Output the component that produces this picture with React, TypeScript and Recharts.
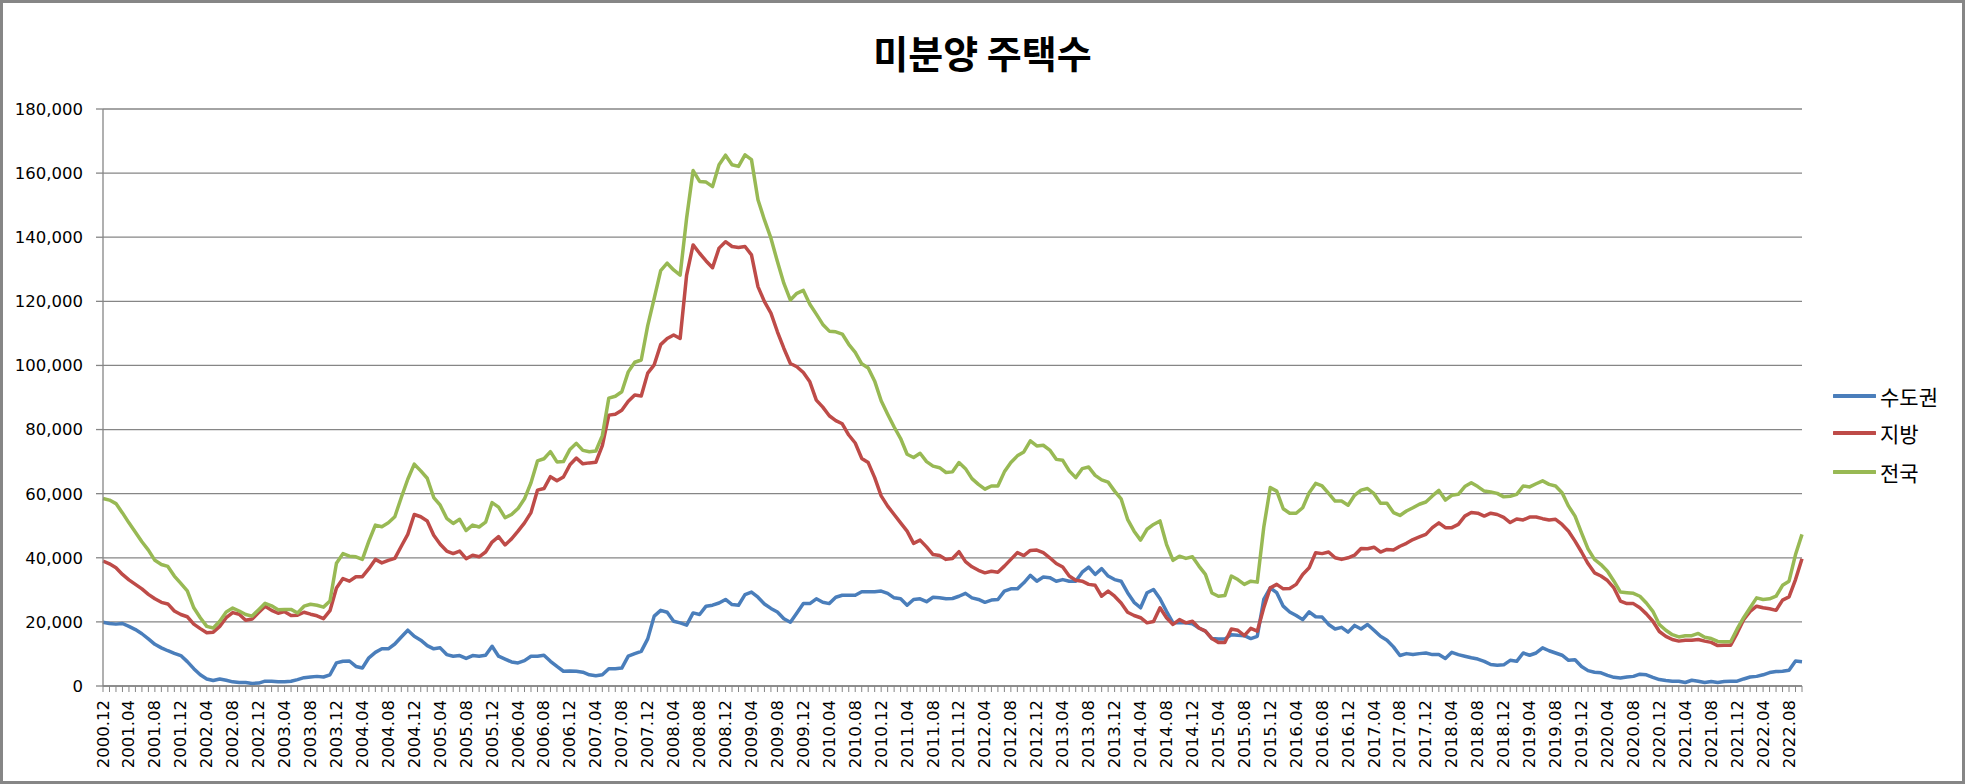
import { LineChart, Line, XAxis, YAxis, CartesianGrid } from 'recharts'

// 미분양 주택수, 2000.12 ~ 2022.10 (월별, 단위: 천 호)
const START_YEAR = 2000
const START_MONTH = 12
const MONTH_COUNT = 263

const months: string[] = []
for (let i = 0; i < MONTH_COUNT; i++) {
  const m = START_MONTH - 1 + i
  const year = START_YEAR + Math.floor(m / 12)
  const month = (m % 12) + 1
  months.push(`${year}.${String(month).padStart(2, '0')}`)
}

const metro = [
  19.9, 19.5, 19.3, 19.5, 18.6, 17.6, 16.3, 14.7, 13.0, 11.9,
  11.0, 10.2, 9.5, 7.6, 5.4, 3.5, 2.2, 1.7, 2.2, 1.8,
  1.3, 1.1, 1.1, 0.8, 0.9, 1.5, 1.5, 1.3, 1.3, 1.5,
  2.0, 2.6, 2.8, 3.0, 2.8, 3.5, 7.2, 7.7, 7.8, 6.1,
  5.6, 8.8, 10.5, 11.6, 11.6, 13.1, 15.3, 17.4, 15.5, 14.3,
  12.6, 11.6, 11.9, 9.8, 9.3, 9.5, 8.6, 9.5, 9.3, 9.6,
  12.4, 9.3, 8.4, 7.5, 7.2, 7.9, 9.3, 9.3, 9.6, 7.7,
  6.1, 4.6, 4.7, 4.6, 4.3, 3.5, 3.2, 3.5, 5.4, 5.4,
  5.6, 9.3, 10.1, 10.8, 14.7, 21.8, 23.6, 23.0, 20.2, 19.7,
  19.0, 22.8, 22.3, 24.9, 25.2, 25.9, 27.0, 25.4, 25.2, 28.5,
  29.3, 27.7, 25.6, 24.2, 23.1, 21.0, 19.9, 22.8, 25.7, 25.7,
  27.2, 26.1, 25.7, 27.7, 28.3, 28.3, 28.3, 29.4, 29.4, 29.4,
  29.6, 28.9, 27.5, 27.2, 25.2, 27.0, 27.2, 26.3, 27.7, 27.5,
  27.2, 27.3, 28.0, 28.9, 27.5, 27.0, 26.1, 26.8, 27.0, 29.6,
  30.3, 30.3, 32.2, 34.5, 32.7, 34.0, 33.8, 32.7, 33.2, 32.7,
  32.7, 35.5, 37.1, 34.8, 36.6, 34.3, 33.2, 32.7, 29.1, 26.1,
  24.4, 29.1, 30.1, 27.2, 23.3, 19.7, 19.7, 19.7, 19.4, 18.1,
  17.1, 14.8, 14.7, 14.7, 16.0, 15.8, 15.7, 14.8, 15.5, 27.0,
  30.6, 29.1, 24.9, 23.1, 22.0, 20.7, 23.1, 21.6, 21.5, 19.2,
  17.8, 18.3, 16.8, 18.9, 17.8, 19.2, 17.4, 15.5, 14.3, 12.2,
  9.5, 10.1, 9.8, 10.1, 10.3, 9.8, 9.8, 8.6, 10.5, 9.8,
  9.3, 8.8, 8.4, 7.7, 6.7, 6.5, 6.6, 8.0, 7.7, 10.3,
  9.6, 10.3, 11.9, 11.0, 10.3, 9.6, 8.0, 8.2, 6.1, 4.8,
  4.3, 4.1, 3.3, 2.7, 2.5, 2.8, 3.0, 3.7, 3.5, 2.7,
  2.0, 1.7, 1.5, 1.5, 1.1, 1.8, 1.5, 1.1, 1.4, 1.1,
  1.4, 1.5, 1.5, 2.2, 2.8, 3.0, 3.5, 4.2, 4.5, 4.6,
  4.9, 7.8, 7.6,
]

const local = [
  39.0, 38.1, 36.9, 34.8, 33.1, 31.7, 30.3, 28.6, 27.2, 26.1,
  25.6, 23.4, 22.3, 21.6, 19.3, 17.9, 16.6, 16.8, 18.6, 21.3,
  22.9, 22.4, 20.5, 20.9, 22.9, 24.9, 23.6, 22.7, 23.2, 22.0,
  22.1, 23.0, 22.4, 21.9, 21.0, 23.5, 30.6, 33.5, 32.7, 34.1,
  34.1, 36.6, 39.5, 38.4, 39.2, 39.8, 43.6, 47.3, 53.5, 52.8,
  51.5, 47.0, 44.2, 42.1, 41.3, 42.1, 39.7, 40.8, 40.3, 41.8,
  44.9, 46.6, 44.0, 45.9, 48.3, 50.9, 54.1, 61.1, 61.6, 65.3,
  64.0, 65.2, 69.0, 71.1, 69.3, 69.6, 69.8, 75.0, 84.5, 84.8,
  86.0, 88.8, 90.8, 90.5, 97.6, 100.2, 106.5, 108.4, 109.5, 108.4,
  128.2, 137.6, 135.0, 132.6, 130.5, 136.6, 138.6, 137.1, 136.8, 137.1,
  134.5, 124.6, 119.9, 116.3, 110.5, 105.3, 100.6, 99.6, 97.8, 94.9,
  89.2, 87.0, 84.3, 82.8, 81.8, 78.3, 75.8, 71.0, 69.7, 65.0,
  59.3, 56.1, 53.5, 50.9, 48.3, 44.5, 45.5, 43.4, 41.0, 40.7,
  39.5, 39.8, 41.9, 38.8, 37.2, 36.1, 35.3, 35.8, 35.5, 37.4,
  39.5, 41.6, 40.7, 42.3, 42.4, 41.6, 40.0, 38.2, 37.1, 34.3,
  33.0, 32.7, 31.7, 31.4, 28.0, 29.6, 28.0, 25.9, 23.0, 22.0,
  21.3, 19.7, 20.1, 24.4, 21.3, 19.2, 20.7, 19.7, 20.2, 18.1,
  17.1, 14.8, 13.6, 13.6, 17.8, 17.4, 15.7, 18.0, 17.1, 24.4,
  30.6, 31.7, 30.3, 30.4, 31.7, 34.8, 36.9, 41.6, 41.3, 41.8,
  40.0, 39.5, 40.0, 40.8, 42.9, 42.8, 43.3, 41.8, 42.6, 42.4,
  43.6, 44.5, 45.7, 46.5, 47.3, 49.4, 50.9, 49.4, 49.4, 50.4,
  53.0, 54.1, 53.9, 53.0, 53.9, 53.5, 52.6, 51.0, 52.1, 51.8,
  52.7, 52.7, 52.2, 51.8, 52.0, 50.4, 48.3, 45.2, 41.8, 38.2,
  35.3, 34.3, 32.9, 30.6, 26.5, 25.7, 25.7, 24.4, 22.5, 20.2,
  17.0, 15.5, 14.5, 14.0, 14.3, 14.3, 14.5, 14.0, 13.6, 12.6,
  12.7, 12.7, 16.5, 20.7, 23.3, 24.9, 24.4, 24.1, 23.6, 26.8,
  27.8, 33.2, 39.7,
]

const nation = [
  58.5, 58.0, 56.9, 54.0, 50.9, 48.0, 45.0, 42.4, 39.2, 37.9,
  37.3, 34.3, 32.0, 29.7, 24.4, 21.3, 18.6, 18.1, 20.2, 23.1,
  24.3, 23.4, 22.3, 21.8, 23.8, 25.8, 25.0, 23.8, 23.9, 23.9,
  22.8, 24.9, 25.5, 25.2, 24.6, 26.5, 38.3, 41.3, 40.5, 40.3,
  39.5, 45.2, 50.2, 49.7, 50.9, 52.8, 58.8, 64.5, 69.2, 67.1,
  64.8, 58.8, 56.4, 52.3, 50.7, 52.0, 48.5, 50.2, 49.6, 51.1,
  57.2, 55.8, 52.5, 53.5, 55.4, 58.4, 63.4, 70.2, 70.9, 73.1,
  69.9, 70.0, 73.8, 75.7, 73.5, 73.1, 73.3, 78.1, 89.8, 90.4,
  91.8, 98.0, 101.0, 101.7, 112.4, 120.9, 129.6, 131.9, 129.8, 128.2,
  146.0, 160.8, 157.4, 157.2, 155.8, 162.6, 165.6, 162.6, 162.1, 165.7,
  164.2, 151.7, 145.4, 139.7, 132.4, 125.6, 120.4, 122.5, 123.4, 119.1,
  116.0, 112.8, 110.7, 110.5, 109.8, 106.6, 104.1, 100.5, 99.2, 95.1,
  89.0, 84.8, 80.8, 77.2, 72.3, 71.3, 72.6, 70.0, 68.6, 68.1,
  66.6, 66.8, 69.7, 67.8, 64.7, 62.9, 61.4, 62.4, 62.4, 66.8,
  69.7, 71.8, 73.0, 76.5, 74.9, 75.1, 73.6, 70.7, 70.4, 67.1,
  65.0, 67.8, 68.3, 65.7, 64.3, 63.6, 60.8, 58.4, 52.0, 48.3,
  45.5, 48.9, 50.4, 51.5, 44.2, 39.2, 40.5, 39.8, 40.3, 37.4,
  34.8, 29.0, 28.0, 28.2, 34.3, 33.2, 31.7, 32.7, 32.4, 49.5,
  61.9, 60.8, 55.3, 53.9, 53.9, 55.6, 60.3, 63.2, 62.4, 60.1,
  57.7, 57.7, 56.4, 59.5, 61.1, 61.6, 60.0, 57.0, 57.0, 54.1,
  53.2, 54.6, 55.6, 56.7, 57.4, 59.3, 61.0, 58.0, 59.5, 59.8,
  62.2, 63.4, 62.2, 60.8, 60.5, 60.1, 59.0, 59.2, 59.8, 62.4,
  62.1, 63.1, 64.0, 62.9, 62.4, 60.3, 56.1, 53.0, 47.8, 42.8,
  39.5, 37.9, 35.8, 32.7, 29.3, 29.1, 28.9, 28.0, 25.9, 23.3,
  19.2, 17.4, 16.0, 15.3, 15.7, 15.7, 16.4, 15.2, 14.8, 13.9,
  13.8, 13.8, 17.8, 21.3, 24.4, 27.5, 27.0, 27.2, 28.0, 31.4,
  32.7, 41.0, 47.3,
]

const yTicks = [0, 20000, 40000, 60000, 80000, 100000, 120000, 140000, 160000, 180000]

const COLORS = { metro: '#4A7EBB', local: '#BE4B48', nation: '#98B954' }
const GRID = '#868686'
const FONT = '"DejaVu Sans", sans-serif'
const KFONT = '"Noto Sans CJK KR", sans-serif'

const data = months.map((month, i) => ({
  month,
  metro: Math.round(metro[i] * 1000),
  local: Math.round(local[i] * 1000),
  nation: Math.round(nation[i] * 1000),
}))

const legendItems = [
  { name: '수도권', color: COLORS.metro, y: 396 },
  { name: '지방', color: COLORS.local, y: 433 },
  { name: '전국', color: COLORS.nation, y: 472 },
]

// label every 4th month, tick line on every month
function MonthTick(props: any) {
  const { x, y, payload, index } = props
  if (index % 4 !== 0) return null
  const ty = y + 6
  return (
    <text
      x={x}
      y={ty}
      transform={`rotate(-90 ${x} ${ty})`}
      textAnchor="end"
      dominantBaseline="central"
      fontSize={16.5}
      fontFamily={FONT}
      fill="#000"
    >
      {payload.value}
    </text>
  )
}

export default function App() {
  return (
    <div style={{ position: 'relative', width: 1965, height: 784, background: '#fff', overflow: 'hidden' }}>
      <style>{'body { margin: 0; }'}</style>
      <LineChart
        width={1965}
        height={784}
        data={data}
        margin={{ top: 109, right: 163, bottom: 0, left: 0 }}
        style={{ position: 'absolute', left: 0, top: 0 }}
      >
        <CartesianGrid vertical={false} stroke={GRID} strokeWidth={1.3} />
        <XAxis
          dataKey="month"
          interval={0}
          height={98}
          tick={<MonthTick />}
          tickSize={6}
          axisLine={{ stroke: GRID, strokeWidth: 1.3 }}
          tickLine={{ stroke: GRID, strokeWidth: 1 }}
        />
        <YAxis
          width={103}
          domain={[0, 180000]}
          ticks={yTicks}
          interval={0}
          tickSize={7}
          tickMargin={13}
          tickFormatter={(v: number) => v.toLocaleString('en-US')}
          tick={{ fontSize: 16.5, fontFamily: FONT, fill: '#000' }}
          axisLine={{ stroke: GRID, strokeWidth: 1.3 }}
          tickLine={{ stroke: GRID, strokeWidth: 1.3 }}
        />
        <Line type="linear" dataKey="metro" stroke={COLORS.metro} strokeWidth={3.5} dot={false} isAnimationActive={false} strokeLinejoin="round" />
        <Line type="linear" dataKey="local" stroke={COLORS.local} strokeWidth={3.5} dot={false} isAnimationActive={false} strokeLinejoin="round" />
        <Line type="linear" dataKey="nation" stroke={COLORS.nation} strokeWidth={3.5} dot={false} isAnimationActive={false} strokeLinejoin="round" />
      </LineChart>

      {/* title */}
      <div
        style={{
          position: 'absolute', left: 0, top: 33, width: 1965, height: 38,
          lineHeight: '38px', textAlign: 'center', fontFamily: KFONT,
          fontWeight: 700, fontSize: 38, color: '#000',
        }}
      >
        미분양 주택수
      </div>

      {/* legend */}
      {legendItems.map(item => (
        <div key={item.name} style={{ position: 'absolute', left: 1833, top: item.y - 15, height: 30, display: 'flex', alignItems: 'center' }}>
          <svg width={43} height={30} style={{ display: 'block' }}>
            <line x1={1} y1={15} x2={42} y2={15} stroke={item.color} strokeWidth={4} strokeLinecap="round" />
          </svg>
          <span style={{ marginLeft: 4, fontFamily: KFONT, fontSize: 21, lineHeight: '30px', color: '#000' }}>{item.name}</span>
        </div>
      ))}

      {/* chart area border */}
      <div style={{ position: 'absolute', inset: 0, border: `3px solid ${GRID}`, pointerEvents: 'none' }} />
    </div>
  )
}
